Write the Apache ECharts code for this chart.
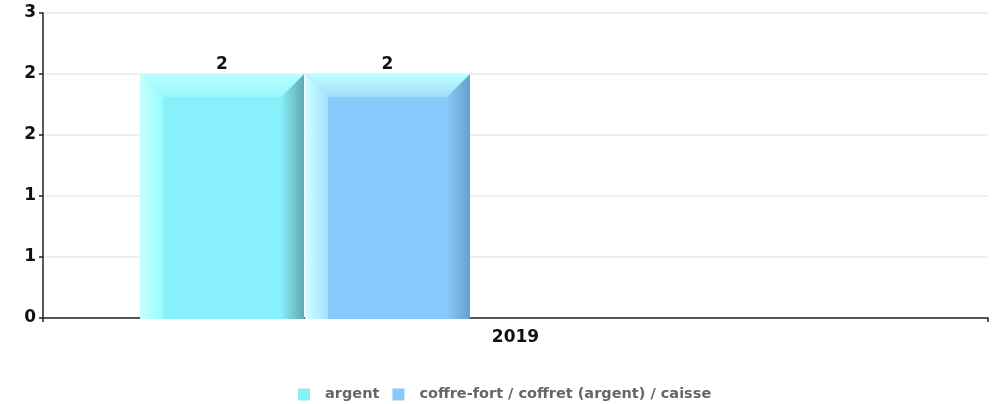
<!DOCTYPE html>
<html><head><meta charset="utf-8">
<script src="https://cdn.jsdelivr.net/npm/echarts@6/dist/echarts.min.js"></script>
<style>html,body{margin:0;padding:0;background:#fff}#c{width:998px;height:404px}</style>
</head><body><div id="c"></div>
<script>
const categories = ['2019'];
const seriesNames = ['argent', 'coffre-fort / coffret (argent) / caisse'];
const argentValues = [2];
const coffreValues = [2];
const yTickValues = [0, 0.5, 1, 1.5, 2, 2.5];
const yTickLabels = ['0', '1', '1', '2', '2', '3'];

const FONT = '"DejaVu Sans", sans-serif';
const palettes = [
  {main:'#88F0FB', leftA:'#C8FFFF', leftB:'#98FBFF', topA:'#B8FFFF', topB:'#98F8FC', rightA:'#88EEF8', rightB:'#62A8B1'},
  {main:'#88CAFC', leftA:'#CCFFFF', leftB:'#A6E2FF', topA:'#C0FFFF', topB:'#A0DCFC', rightA:'#88C8FA', rightB:'#64A0CC'}
];
const slots = [{left:0.1027, width:0.1735}, {left:0.2772, width:0.1746}];
const BEVEL = 23;

function lg(x, y, x2, y2, a, b) {
  return {type:'linear', x:x, y:y, x2:x2, y2:y2, colorStops:[{offset:0, color:a}, {offset:1, color:b}]};
}

function makeRender(si) {
  return function (params, api) {
    const ci = api.value(0), v = api.value(1);
    const top = api.coord([ci, v]);
    const base = api.coord([ci, 0]);
    const band = api.size([1, 0])[0];
    const bandLeft = top[0] - band / 2;
    const x0 = bandLeft + band * slots[si].left;
    const w = band * slots[si].width;
    const x1 = x0 + w;
    const y0 = top[1], y1 = base[1] + 1;
    const d = Math.min(BEVEL, w / 2, (y1 - y0) / 2);
    const p = palettes[si];
    return {type:'group', children:[
      {type:'rect', shape:{x:x0, y:y0, width:w, height:y1 - y0}, style:{fill:p.main}},
      {type:'polygon', shape:{points:[[x0,y0],[x0+d,y0+d],[x0+d,y1],[x0,y1]]}, style:{fill:lg(0,0,1,0,p.leftA,p.leftB)}},
      {type:'polygon', shape:{points:[[x1,y0],[x1,y1],[x1-d,y1],[x1-d,y0+d]]}, style:{fill:lg(0,0,1,0,p.rightA,p.rightB)}},
      {type:'polygon', shape:{points:[[x0,y0],[x1,y0],[x1-d,y0+d],[x0+d,y0+d]]}, style:{fill:lg(0,0,0,1,p.topA,p.topB)}},
      {type:'text', style:{text:String(v), x:(x0 + x1) / 2, y:y0 - 1, align:'center', verticalAlign:'bottom',
        fontSize:17, fontWeight:'bold', fontFamily:FONT, fill:'#111'}}
    ]};
  };
}

const chart = echarts.init(document.getElementById('c'), null, {renderer:'canvas'});
chart.setOption({
  animation:false,
  backgroundColor:'#ffffff',
  grid:{left:43, right:10, top:13, bottom:86},
  legend:{
    data:seriesNames, icon:'rect', itemWidth:12, itemHeight:12, itemGap:13,
    left:298, bottom:2, padding:0,
    textStyle:{color:'#666', fontWeight:'bold', fontSize:14.5, fontFamily:FONT, padding:[0,0,0,10]}
  },
  xAxis:{
    type:'category', data:categories, boundaryGap:true,
    axisLine:{lineStyle:{color:'#222', width:1.5}},
    axisTick:{show:true, length:4, lineStyle:{color:'#222', width:1.5}},
    axisLabel:{fontWeight:'bold', fontSize:17, fontFamily:FONT, color:'#111', margin:11},
    splitLine:{show:false}
  },
  yAxis:{
    type:'value', min:0, max:2.5, interval:0.5,
    axisLine:{show:true, lineStyle:{color:'#222', width:1.5}},
    axisTick:{show:true, length:4, lineStyle:{color:'#222', width:1.5}},
    axisLabel:{fontWeight:'bold', fontSize:17, fontFamily:FONT, color:'#111', margin:7,
      formatter:function (v) { const i = yTickValues.indexOf(v); return i >= 0 ? yTickLabels[i] : String(Math.round(v)); }},
    splitLine:{show:true, lineStyle:{color:'#e8e8e8', width:1.5}}
  },
  series:[
    {name:seriesNames[0], type:'custom', renderItem:makeRender(0), itemStyle:{color:palettes[0].main},
      encode:{x:0, y:1}, data:argentValues.map((v, i) => [i, v])},
    {name:seriesNames[1], type:'custom', renderItem:makeRender(1), itemStyle:{color:palettes[1].main},
      encode:{x:0, y:1}, data:coffreValues.map((v, i) => [i, v])}
  ]
});
</script>
</body></html>
